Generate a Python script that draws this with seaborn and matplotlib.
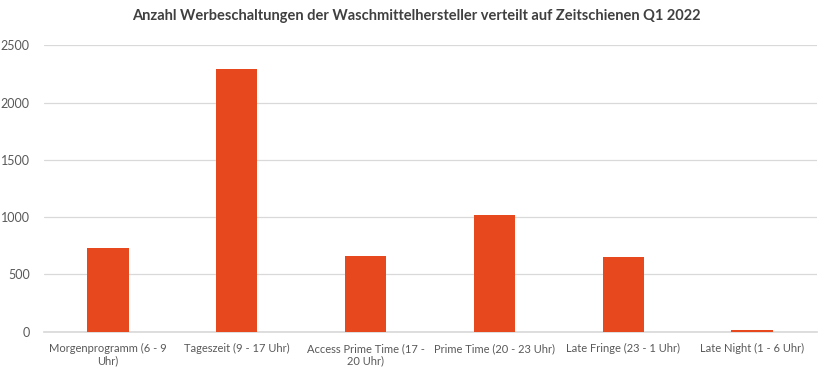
import matplotlib
matplotlib.use("Agg")
import matplotlib.pyplot as plt
import seaborn as sns
import pandas as pd

categories = [
    "Morgenprogramm (6 - 9\nUhr)",
    "Tageszeit (9 - 17 Uhr)",
    "Access Prime Time (17 -\n20 Uhr)",
    "Prime Time (20 - 23 Uhr)",
    "Late Fringe (23 - 1 Uhr)",
    "Late Night (1 - 6 Uhr)",
]
values = [728, 2294, 660, 1018, 655, 12]
yticks = [0, 500, 1000, 1500, 2000, 2500]

df = pd.DataFrame({"slot": categories, "count": values})

sns.set_theme(style="white")
plt.rcParams["font.family"] = ["Lato", "DejaVu Sans"]

fig = plt.figure(figsize=(8.32, 3.79), dpi=100)
ax = fig.add_axes([0.0523, 0.1248, 0.9291, 0.7552])

sns.barplot(data=df, x="slot", y="count", color="#E8481E", width=0.32,
            saturation=1, linewidth=0, ax=ax, zorder=3)

ax.set_ylim(0, 2500)
ax.set_yticks(yticks)
ax.set_xlim(-0.5, len(categories) - 0.5)
ax.yaxis.grid(True, color="#d9d9d9", linewidth=0.9, zorder=0)
ax.set_axisbelow(True)
for side in ["top", "right", "left"]:
    ax.spines[side].set_visible(False)
ax.spines["bottom"].set_color("#d9d9d9")
ax.tick_params(axis="y", length=0, labelsize=9, labelcolor="#595959", pad=10)
ax.tick_params(axis="x", length=0, labelsize=8, labelcolor="#595959", pad=8)
ax.set_xlabel("")
ax.set_ylabel("")

fig.suptitle("Anzahl Werbeschaltungen der Waschmittelhersteller verteilt auf Zeitschienen Q1 2022",
             x=0.5, y=0.975, fontsize=10.5, fontweight="bold", color="#404040")

fig.savefig("out.png", dpi=100)
